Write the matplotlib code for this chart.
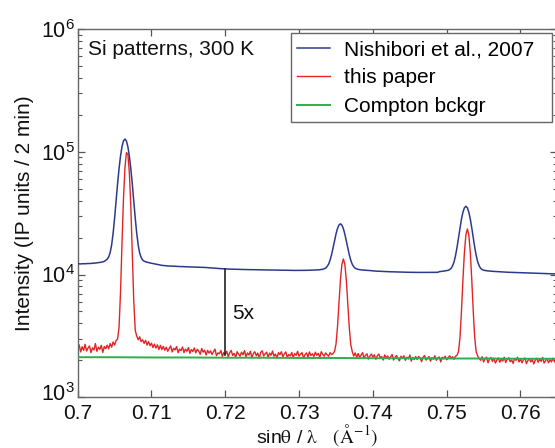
import numpy as np
import matplotlib
matplotlib.use("Agg")
import matplotlib.pyplot as plt
from matplotlib.ticker import FixedLocator, NullFormatter, LogLocator
from matplotlib.transforms import ScaledTranslation

plt.rcParams['font.family'] = ['Liberation Sans', 'DejaVu Sans']
plt.rcParams['mathtext.fontset'] = 'custom'
plt.rcParams['mathtext.rm'] = 'Liberation Sans'
plt.rcParams['mathtext.it'] = 'Liberation Sans:italic'
plt.rcParams['mathtext.bf'] = 'Liberation Sans:bold'

# sin(theta)/lambda sampling shared by both measured patterns (1/Angstrom)
q_start = 0.700
q_step = 0.0002
n_pts = 326

# Nishibori et al. 2007 pattern, thousands of IP units / 2 min
nishibori_k = [
    12.25, 12.22, 12.20, 12.24, 12.26, 12.23, 12.27, 12.30, 12.28, 12.32,
    12.35, 12.38, 12.40, 12.45, 12.50, 12.55, 12.60, 12.70, 12.80, 13.06,
    13.32, 13.91, 15.11, 17.45, 21.71, 28.80, 39.60, 54.55, 72.60, 92.10,
    109.8, 122.4, 126.9, 122.4, 109.8, 92.10, 72.60, 54.50, 39.55, 28.70,
    21.61, 17.35, 14.96, 13.76, 13.12, 12.86, 12.70, 12.60, 12.50, 12.42,
    12.35, 12.28, 12.20, 12.13, 12.06, 12.00, 11.93, 11.88, 11.84, 11.80,
    11.75, 11.74, 11.72, 11.73, 11.70, 11.69, 11.67, 11.66, 11.64, 11.62,
    11.60, 11.61, 11.58, 11.57, 11.56, 11.55, 11.56, 11.54, 11.52, 11.53,
    11.51, 11.50, 11.50, 11.48, 11.46, 11.44, 11.42, 11.40, 11.38, 11.36,
    11.35, 11.32, 11.30, 11.27, 11.24, 11.20, 11.18, 11.16, 11.14, 11.12,
    11.10, 11.09, 11.08, 11.08, 11.06, 11.05, 11.05, 11.03, 11.02, 11.01,
    11.00, 11.00, 10.99, 10.98, 10.98, 10.97, 10.96, 10.96, 10.95, 10.95,
    10.95, 10.94, 10.93, 10.93, 10.92, 10.92, 10.91, 10.90, 10.90, 10.90,
    10.89, 10.88, 10.88, 10.87, 10.87, 10.86, 10.86, 10.85, 10.85, 10.84,
    10.84, 10.83, 10.83, 10.82, 10.82, 10.81, 10.81, 10.80, 10.80, 10.80,
    10.80, 10.80, 10.81, 10.81, 10.82, 10.82, 10.83, 10.84, 10.85, 10.85,
    10.86, 10.87, 10.89, 10.91, 10.94, 10.98, 11.04, 11.14, 11.28, 11.62,
    12.16, 13.11, 14.51, 16.44, 18.82, 21.37, 23.66, 25.29, 25.88, 25.26,
    23.63, 21.34, 18.79, 16.41, 14.48, 13.08, 12.13, 11.59, 11.25, 11.11,
    11.01, 10.95, 10.91, 10.89, 10.87, 10.85, 10.83, 10.80, 10.77, 10.74,
    10.70, 10.68, 10.66, 10.65, 10.63, 10.62, 10.60, 10.59, 10.58, 10.56,
    10.55, 10.54, 10.53, 10.52, 10.51, 10.50, 10.49, 10.48, 10.47, 10.46,
    10.45, 10.45, 10.44, 10.44, 10.43, 10.43, 10.42, 10.42, 10.41, 10.41,
    10.40, 10.40, 10.40, 10.40, 10.40, 10.40, 10.40, 10.40, 10.40, 10.40,
    10.40, 10.41, 10.41, 10.42, 10.43, 10.55, 10.58, 10.62, 10.66, 10.71,
    10.76, 10.82, 10.98, 11.22, 11.77, 12.69, 14.28, 16.65, 19.93, 23.95,
    28.25, 32.15, 34.95, 35.95, 34.95, 32.15, 28.25, 23.95, 19.93, 16.65,
    14.28, 12.69, 11.77, 11.22, 10.98, 10.84, 10.78, 10.74, 10.70, 10.67,
    10.64, 10.62, 10.60, 10.58, 10.56, 10.54, 10.52, 10.51, 10.49, 10.47,
    10.45, 10.44, 10.43, 10.42, 10.41, 10.40, 10.39, 10.38, 10.37, 10.36,
    10.35, 10.34, 10.33, 10.32, 10.31, 10.30, 10.29, 10.28, 10.27, 10.26,
    10.25, 10.24, 10.23, 10.22, 10.21, 10.20, 10.19, 10.18, 10.17, 10.16,
    10.15, 10.14, 10.13, 10.12, 10.11, 10.10,
]

# present measurement, thousands of IP units / 2 min
this_paper_k = [
    2.47, 2.67, 2.34, 2.58, 2.41, 2.70, 2.38, 2.52, 2.62, 2.31,
    2.53, 2.43, 2.74, 2.37, 2.56, 2.46, 2.65, 2.32, 2.59, 2.49,
    2.66, 2.48, 2.74, 2.56, 2.82, 2.66, 2.90, 2.98, 3.70, 7.10,
    17.7, 41.1, 74.0, 98.4, 95.3, 67.4, 35.4, 14.7, 6.00, 3.50,
    3.15, 2.94, 3.11, 2.84, 2.94, 2.75, 2.91, 2.66, 2.84, 2.63,
    2.76, 2.54, 2.71, 2.52, 2.67, 2.45, 2.65, 2.45, 2.60, 2.42,
    2.56, 2.37, 2.50, 2.62, 2.34, 2.51, 2.43, 2.59, 2.31, 2.47,
    2.40, 2.57, 2.31, 2.47, 2.37, 2.54, 2.28, 2.45, 2.36, 2.52,
    2.30, 2.46, 2.38, 2.24, 2.50, 2.33, 2.42, 2.21, 2.41, 2.29,
    2.39, 2.23, 2.35, 2.47, 2.18, 2.30, 2.26, 2.41, 2.15, 2.32,
    2.23, 2.37, 2.14, 2.31, 2.41, 2.19, 2.28, 2.11, 2.35, 2.25,
    2.16, 2.33, 2.22, 2.40, 2.13, 2.30, 2.21, 2.37, 2.10, 2.27,
    2.35, 2.18, 2.29, 2.09, 2.32, 2.39, 2.17, 2.26, 2.33, 2.12,
    2.29, 2.20, 2.38, 2.16, 2.25, 2.08, 2.31, 2.22, 2.35, 2.14,
    2.26, 2.34, 2.11, 2.23, 2.17, 2.32, 2.10, 2.27, 2.20, 2.37,
    2.16, 2.25, 2.31, 2.09, 2.22, 2.30, 2.13, 2.34, 2.19, 2.26,
    2.15, 2.33, 2.20, 2.28, 2.10, 2.35, 2.24, 2.16, 2.30, 2.22,
    2.16, 2.31, 2.23, 2.27, 2.36, 2.71, 3.72, 5.84, 9.00, 12.1,
    13.4, 12.1, 9.00, 5.84, 3.72, 2.69, 2.36, 2.17, 2.30, 2.12,
    2.27, 2.11, 2.21, 2.31, 2.08, 2.20, 2.26, 2.05, 2.17, 2.25,
    2.12, 2.22, 2.04, 2.18, 2.25, 2.09, 2.15, 2.01, 2.21, 2.10,
    2.17, 2.04, 2.14, 2.23, 2.01, 2.11, 2.19, 2.07, 1.98, 2.16,
    2.09, 2.18, 2.00, 2.12, 2.05, 2.21, 1.97, 2.11, 2.03, 2.15,
    2.03, 2.15, 2.09, 1.95, 2.12, 2.19, 2.01, 2.07, 2.15, 1.97,
    2.10, 2.04, 2.18, 2.00, 2.09, 2.13, 1.94, 2.12, 2.06, 2.16,
    2.02, 2.10, 2.18, 2.07, 2.14, 2.04, 2.16, 2.20, 2.36, 3.04,
    5.00, 9.06, 15.1, 21.0, 23.5, 21.0, 15.1, 9.06, 5.00, 3.04,
    2.34, 2.17, 2.07, 2.00, 2.14, 1.94, 2.06, 2.12, 1.91, 2.05,
    2.11, 1.96, 2.08, 1.90, 2.01, 2.09, 1.93, 2.05, 1.97, 2.12,
    1.92, 2.04, 2.10, 1.95, 2.01, 1.89, 2.07, 2.00, 2.12, 1.94,
    2.05, 1.91, 2.02, 2.09, 1.88, 1.99, 2.06, 1.94, 2.03, 1.87,
    2.00, 2.08, 1.93, 2.05, 1.96, 2.11, 1.90, 1.99, 2.06, 1.91,
    2.02, 1.94, 2.08, 1.97, 1.88, 2.03,
]

# Compton background estimate
compton_q = [0.700, 0.705, 0.710, 0.715, 0.720, 0.725, 0.730,
             0.735, 0.740, 0.745, 0.750, 0.755, 0.760, 0.765]
compton_k = [2.12, 2.12, 2.11, 2.11, 2.10, 2.10, 2.09,
             2.09, 2.08, 2.08, 2.07, 2.07, 2.06, 2.06]

# background-to-old-pattern ratio marker
ratio_q = 0.720
ratio_lo_k = 2.22
ratio_hi_k = 11.10
ratio_label = "5x"

series_labels = ["Nishibori et al., 2007", "this paper", "Compton bckgr"]
x_ticks = [0.70, 0.71, 0.72, 0.73, 0.74, 0.75, 0.76]
x_tick_labels = ["0.7", "0.71", "0.72", "0.73", "0.74", "0.75", "0.76"]
y_ticks = [1e3, 1e4, 1e5, 1e6]
y_tick_labels = [r"$10^{3}$", r"$10^{4}$", r"$10^{5}$", r"$10^{6}$"]

q = q_start + q_step * np.arange(n_pts)
blue = np.array(nishibori_k) * 1000.0
red = np.array(this_paper_k) * 1000.0
green = np.array(compton_k) * 1000.0

fig = plt.figure(figsize=(5.55, 4.48), dpi=100)
ax = fig.add_axes([0.140, 0.1132, 0.8643, 0.8221])

c_blue = "#2c3a8e"
c_red = "#e32426"
c_green = "#2fae4e"
ax.plot(q, blue, color=c_blue, lw=1.1, label=series_labels[0], zorder=3)
ax.plot(q, red, color=c_red, lw=1.0, label=series_labels[1], zorder=2)
ax.plot(compton_q, green, color=c_green, lw=1.4, label=series_labels[2], zorder=4)

ax.plot([ratio_q, ratio_q], [ratio_lo_k * 1000, ratio_hi_k * 1000],
        color="#222222", lw=1.2, zorder=5)
ax.text(ratio_q + 0.0009, 4.85e3, ratio_label, fontsize=15, va="center",
        ha="left", color="#111111")

ax.set_yscale("log")
ax.set_xlim(0.700, 0.765)
ax.set_ylim(1e3, 1e6)

ax.xaxis.set_major_locator(FixedLocator(x_ticks))
ax.set_xticklabels(x_tick_labels)
ax.yaxis.set_major_locator(FixedLocator(y_ticks))
ax.set_yticklabels(y_tick_labels)
ax.yaxis.set_minor_locator(LogLocator(base=10, subs=np.arange(2, 10)))
ax.yaxis.set_minor_formatter(NullFormatter())

ax.tick_params(which="both", direction="in", top=True, right=True,
               colors="#555555", labelcolor="#111111")
ax.tick_params(axis="x", which="major", length=5, width=0.9, labelsize=15, pad=5)
ax.tick_params(axis="y", which="major", length=5, width=0.9, labelsize=15.5, pad=2)
ax.tick_params(which="minor", length=3, width=0.8)
for s in ax.spines.values():
    s.set_color("#666666")
    s.set_linewidth(1.0)

# lift the lowest decade label a little so it clears the first x label
low_lbl = ax.yaxis.get_major_ticks()[0].label1
low_lbl.set_transform(low_lbl.get_transform()
                      + ScaledTranslation(0, 4 / 72, fig.dpi_scale_trans))

ax.set_ylabel("Intensity (IP units / 2 min)", fontsize=15, labelpad=5, color="#111111")
ax.set_xlabel(r"sin$\mathrm{\theta}$ / $\mathrm{\lambda}$   $(\mathrm{\AA}^{-1})$",
              fontsize=14, labelpad=-1, color="#111111", math_fontfamily="stix")

ax.text(0.022, 0.945, "Si patterns, 300 K", transform=ax.transAxes,
        fontsize=15, va="center", ha="left", color="#111111")

leg = ax.legend(loc="upper left", bbox_to_anchor=(0.444, 0.5, 0.5447, 0.488),
                mode="expand", fontsize=15,
                frameon=True, fancybox=False, framealpha=1, edgecolor="#666666",
                handlelength=1.55, handletextpad=0.7, labelspacing=0.45,
                borderpad=0.32, borderaxespad=0.0)
leg.get_frame().set_linewidth(1.0)

fig.savefig("out.png", dpi=100)
